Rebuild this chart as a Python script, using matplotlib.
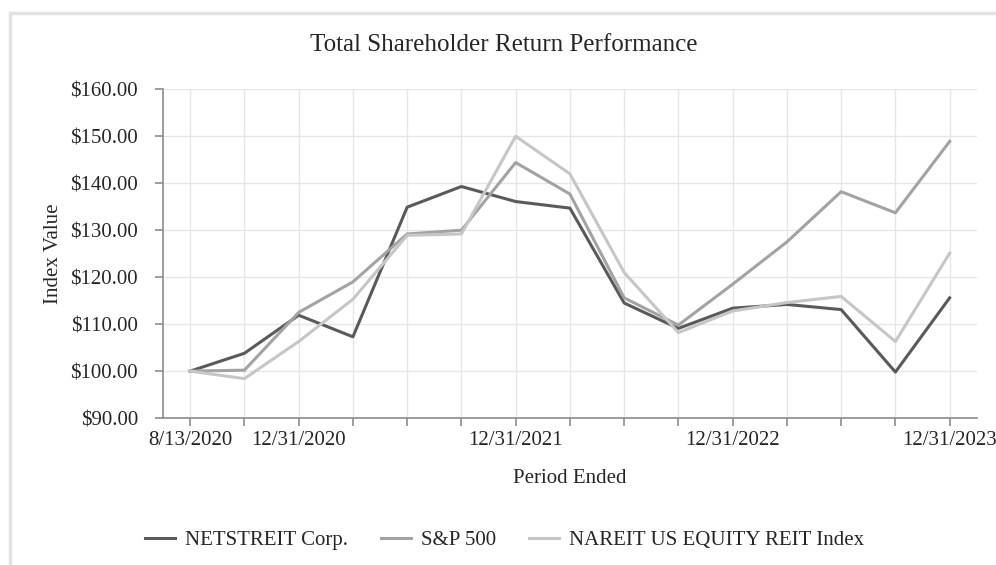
import matplotlib.pyplot as plt
from matplotlib.patches import Rectangle

# quarterly period ends, only some are labelled
periods = ["8/13/2020", "9/30/2020", "12/31/2020", "3/31/2021", "6/30/2021",
           "9/30/2021", "12/31/2021", "3/31/2022", "6/30/2022", "9/30/2022",
           "12/31/2022", "3/31/2023", "6/30/2023", "9/30/2023", "12/31/2023"]
shown_labels = ["8/13/2020", "12/31/2020", "12/31/2021", "12/31/2022", "12/31/2023"]

netstreit = [100.0, 103.8, 111.9, 107.3, 134.9, 139.3, 136.1, 134.7, 114.5, 109.1,
             113.4, 114.2, 113.1, 99.8, 115.6]
sp500 = [100.0, 100.2, 112.5, 119.0, 129.2, 130.0, 144.4, 137.7, 115.6, 109.8,
         118.5, 127.5, 138.2, 133.7, 148.9]
nareit = [100.0, 98.4, 106.3, 115.3, 128.9, 129.2, 150.0, 142.0, 121.0, 108.2,
          112.8, 114.6, 115.9, 106.3, 125.1]

yticks = [90, 100, 110, 120, 130, 140, 150, 160]

plt.rcParams['font.family'] = ['Liberation Serif', 'DejaVu Serif']

fig = plt.figure(figsize=(9.96, 5.65), dpi=100)
ax = fig.add_axes([0.1637, 0.26, 0.817, 0.582])

# outer chart frame
fig.patches.append(Rectangle((0.010, -0.05), 1.05, 1.027, transform=fig.transFigure,
                             fill=False, edgecolor="#e2e2e2", linewidth=2.5, clip_on=False))

x = list(range(len(periods)))
ax.plot(x, netstreit, color="#5a5a5a", lw=2.2, label="NETSTREIT Corp.")
ax.plot(x, sp500, color="#a3a3a3", lw=2.2, label="S&P 500")
ax.plot(x, nareit, color="#c6c6c6", lw=2.2, label="NAREIT US EQUITY REIT Index")

ax.set_xlim(-0.5, len(periods) - 0.5)
ax.set_ylim(90, 160)
ax.set_yticks(yticks)
ax.set_yticklabels([f"${v:.2f}" for v in yticks])
ax.set_xticks(x)
ax.set_xticklabels([p if p in shown_labels else "" for p in periods])

ax.grid(True, color="#e6e6e6", lw=1.0)
ax.set_axisbelow(True)
for s in ["top", "right"]:
    ax.spines[s].set_visible(False)
for s in ["left", "bottom"]:
    ax.spines[s].set_color("#8c8c8c")
    ax.spines[s].set_linewidth(1.2)
ax.tick_params(axis="both", colors="#8c8c8c", labelcolor="#262626", labelsize=15,
               length=6, width=1.2)
ax.tick_params(axis="y", pad=12)
ax.tick_params(axis="x", pad=3)

ax.set_xlabel("Period Ended", fontsize=15, color="#262626", labelpad=14)
ax.set_ylabel("Index Value", fontsize=15, color="#262626", labelpad=5)
# title sits centred on the whole chart box, not the plot area
fig.text(0.506, 0.92, "Total Shareholder Return Performance", fontsize=18,
         color="#262626", ha="center", va="center")

ax.legend(loc="center", bbox_to_anchor=(0.42, -0.371), ncol=3, frameon=False,
          fontsize=15, handlelength=1.4, columnspacing=1.6, handletextpad=0.5)
for t in ax.get_legend().get_texts():
    t.set_color("#262626")

fig.savefig("out.png", dpi=100)
